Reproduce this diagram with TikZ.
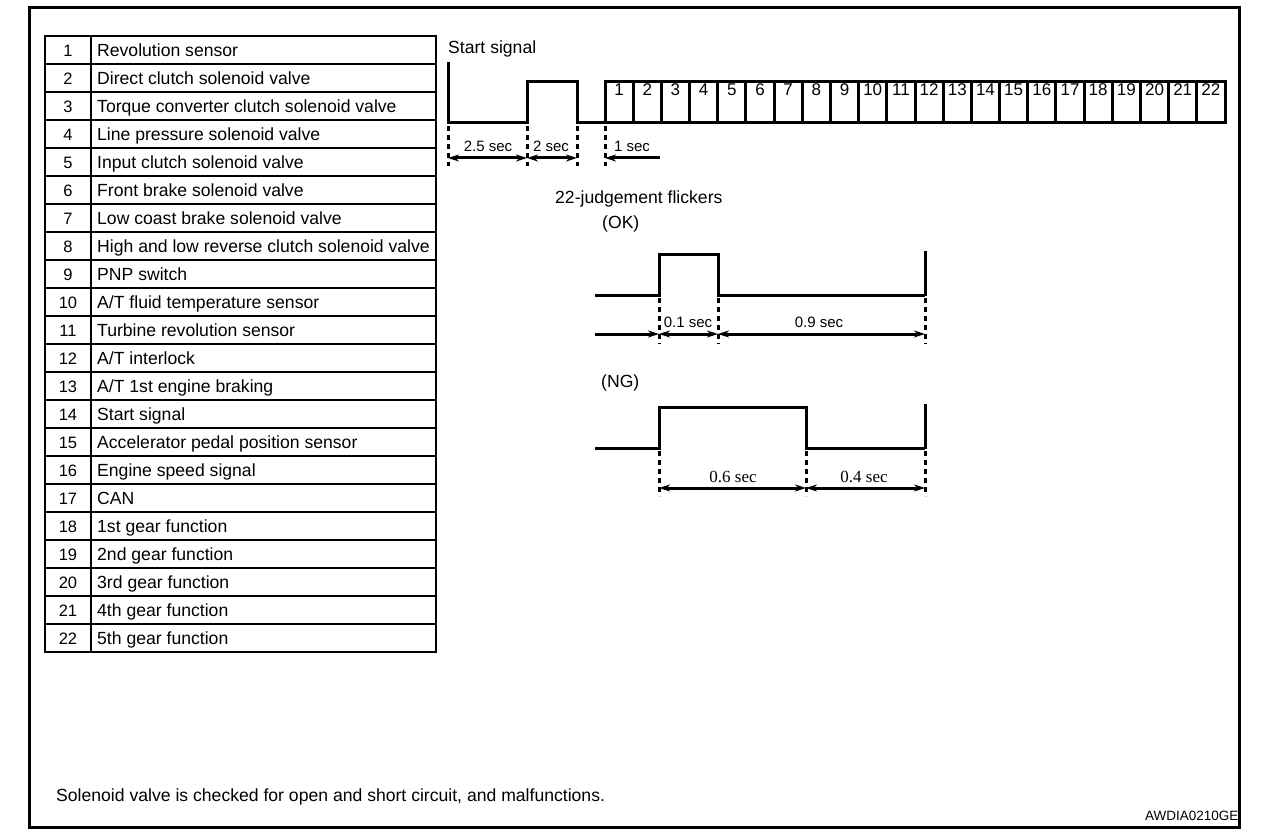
\documentclass[tikz,border=0pt]{standalone}
\usepackage{fontspec}
\setmainfont{Liberation Sans}
\newfontfamily\serifl{Liberation Serif}
\usetikzlibrary{arrows.meta}
\tikzset{
  lbl/.style={font=\fontsize{17.6}{21}\selectfont, inner sep=0pt},
  num/.style={font=\fontsize{16.5}{19}\selectfont, inner sep=0pt},
  dimtxt/.style={font=\fontsize{15}{18}\selectfont, inner sep=0pt},
  sig/.style={line width=3pt},
  tbl/.style={line width=2.6pt},
  frame/.style={line width=3pt},
  dsh/.style={line width=3pt, dash pattern=on 5pt off 4pt},
  tip/.tip={Stealth[length=11pt,width=7pt]},
  dimline/.style={line width=3pt, tip-tip},
  rarrow/.style={line width=3pt, -tip},
}
\begin{document}
\begin{tikzpicture}[x=1pt,y=-1pt]
\useasboundingbox (0,0) rectangle (1280,840);
% table
\draw[tbl] (45,36) rectangle (436,652);
\draw[tbl] (91,36) -- (91,652);
\foreach \i in {1,...,21} \draw[tbl] (45,{36+28*\i}) -- (436,{36+28*\i});
\foreach \n/\t in {1/{Revolution sensor},2/{Direct clutch solenoid valve},3/{Torque converter clutch solenoid valve},4/{Line pressure solenoid valve},5/{Input clutch solenoid valve},6/{Front brake solenoid valve},7/{Low coast brake solenoid valve},8/{High and low reverse clutch solenoid valve},9/{PNP switch},10/{A/T fluid temperature sensor},11/{Turbine revolution sensor},12/{A/T interlock},13/{A/T 1st engine braking},14/{Start signal},15/{Accelerator pedal position sensor},16/{Engine speed signal},17/{CAN},18/{1st gear function},19/{2nd gear function},20/{3rd gear function},21/{4th gear function},22/{5th gear function}}{
  \node[num, anchor=base] (tn\n) at (68,{28.5+28*\n}) {\n};
  \node[lbl, anchor=base west] (tl\n) at (97,{28.5+28*\n}) {\t};
}
% start signal
\node[lbl, anchor=base west] (stitle) at (448,54) {Start signal};
\draw[sig] (448,62) -- (448,123) -- (527,123) -- (527,82) -- (577,82) -- (577,123) -- (605,123);
\draw[sig] (605,82) rectangle (1225,123);
\foreach \k in {1,...,21} \draw[sig] ({605+620/22*\k},82) -- ({605+620/22*\k},123);
\foreach \k in {1,...,22} \node[num, font=\fontsize{17}{20}\selectfont, anchor=base] (b\k) at ({605+620/22*(\k-0.5)},96) {\k};
\foreach \x in {448,527,577,605} \draw[dsh] (\x,126) -- (\x,166);
\draw[dimline] (448,158) -- (527,158);
\draw[dimline] (527,158) -- (577,158);
\draw[rarrow] (660,158) -- (605,158);
\node[dimtxt, anchor=base] (d1) at (488,152) {2.5 sec};
\node[dimtxt, anchor=base] (d2) at (551,152) {2 sec};
\node[dimtxt, anchor=base] (d3) at (632,152) {1 sec};
% judgement
\node[lbl, anchor=base west] (jt) at (555,204) {22-judgement flickers};
\node[lbl, anchor=base west] (ok) at (602,228) {(OK)};
\draw[sig] (595,295) -- (659,295) -- (659,254) -- (718,254) -- (718,295) -- (925,295);
\draw[sig] (925,251) -- (925,296);
\foreach \x in {659,718,925} \draw[dsh] (\x,298) -- (\x,344);
\draw[rarrow] (595,334) -- (659,334);
\draw[dimline] (659,334) -- (718,334);
\draw[dimline] (718,334) -- (925,334);
\node[dimtxt, anchor=base] (d4) at (688,327) {0.1 sec};
\node[dimtxt, anchor=base] (d5) at (819,327) {0.9 sec};
\node[lbl, anchor=base west] (ng) at (601,387) {(NG)};
\draw[sig] (595,448) -- (659,448) -- (659,407) -- (806,407) -- (806,448) -- (925,448);
\draw[sig] (925,404) -- (925,449);
\foreach \x in {659,806,925} \draw[dsh] (\x,451) -- (\x,496);
\draw[dimline] (659,488) -- (806,488);
\draw[dimline] (806,488) -- (925,488);
\node[dimtxt, font=\serifl\fontsize{17}{20}\selectfont, anchor=base] (d6) at (733,482) {0.6 sec};
\node[dimtxt, font=\serifl\fontsize{17}{20}\selectfont, anchor=base] (d7) at (864,482) {0.4 sec};
% footer
\node[lbl, anchor=base west] (foot) at (56,801) {Solenoid valve is checked for open and short circuit, and malfunctions.};
\node[lbl, font=\fontsize{13.5}{16}\selectfont, anchor=base west] (code) at (1145,820) {AWDIA0210GE};
\draw[frame] (29,8) rectangle (1239,827);
\end{tikzpicture}
\end{document}
